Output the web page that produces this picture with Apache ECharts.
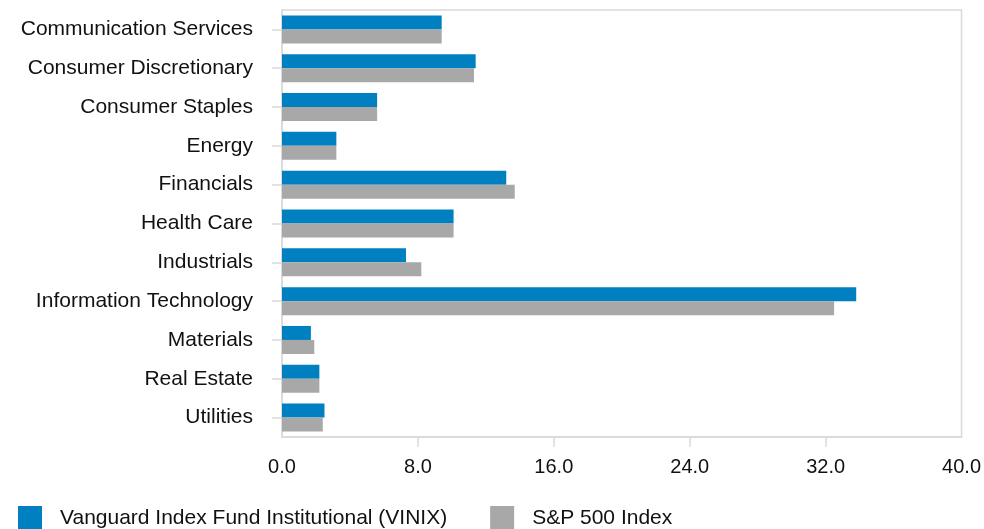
<!DOCTYPE html>
<html>
<head>
<meta charset="utf-8">
<script src="https://cdn.jsdelivr.net/npm/echarts@6/dist/echarts.min.js"></script>
<style>
html,body{margin:0;padding:0;background:#fff;}
#chart{width:984px;height:529px;}
</style>
</head>
<body>
<div id="chart"></div>
<script>
const categories = ["Communication Services","Consumer Discretionary","Consumer Staples","Energy","Financials","Health Care","Industrials","Information Technology","Materials","Real Estate","Utilities"];
const vinixValues = [9.4, 11.4, 5.6, 3.2, 13.2, 10.1, 7.3, 33.8, 1.7, 2.2, 2.5];
const sp500Values = [9.4, 11.3, 5.6, 3.2, 13.7, 10.1, 8.2, 32.5, 1.9, 2.2, 2.4];
const seriesNames = ["Vanguard Index Fund Institutional (VINIX)", "S&P 500 Index"];
const xTicks = {min: 0, max: 40, interval: 8};
const innerTicks = [8, 16, 24, 32];

const FONT = "Liberation Sans, Arial, sans-serif";
const TEXT = '#111';
const chart = echarts.init(document.getElementById('chart'), null, {renderer: 'canvas'});
chart.setOption({
  animation: false,
  backgroundColor: '#fff',
  grid: {left: 282, right: 22, top: 10, bottom: 92, show: true, borderColor: '#d9d9d9', borderWidth: 1.5, containLabel: false},
  legend: {
    left: 18, top: 506, padding: 0, itemWidth: 24, itemHeight: 24, itemGap: 43,
    icon: 'rect',
    textStyle: {fontFamily: FONT, fontSize: 21, color: TEXT, padding: [0, 0, 0, 13]},
    data: seriesNames
  },
  xAxis: {
    type: 'value', min: xTicks.min, max: xTicks.max, interval: xTicks.interval,
    axisLine: {show: true, lineStyle: {color: '#d9d9d9', width: 1.5}},
    axisTick: {show: true, length: 10, customValues: innerTicks, lineStyle: {color: '#d9d9d9', width: 1.5}},
    splitLine: {show: false},
    axisLabel: {fontFamily: FONT, fontSize: 20, color: TEXT, margin: 20, formatter: v => v.toFixed(1)}
  },
  yAxis: {
    type: 'category', data: categories, inverse: true,
    axisLine: {show: true, lineStyle: {color: '#d9d9d9', width: 1.5}},
    axisTick: {show: true, length: 10, alignWithLabel: true, lineStyle: {color: '#d9d9d9', width: 1.5}},
    axisLabel: {fontFamily: FONT, fontSize: 21, color: TEXT, margin: 29, interval: 0}
  },
  series: [
    {name: seriesNames[0], type: 'bar', data: vinixValues, itemStyle: {color: '#0080C0'}, barWidth: 14, barGap: '0%'},
    {name: seriesNames[1], type: 'bar', data: sp500Values, itemStyle: {color: '#A8A8A8'}, barWidth: 14, barGap: '0%'}
  ]
});
</script>
</body>
</html>
